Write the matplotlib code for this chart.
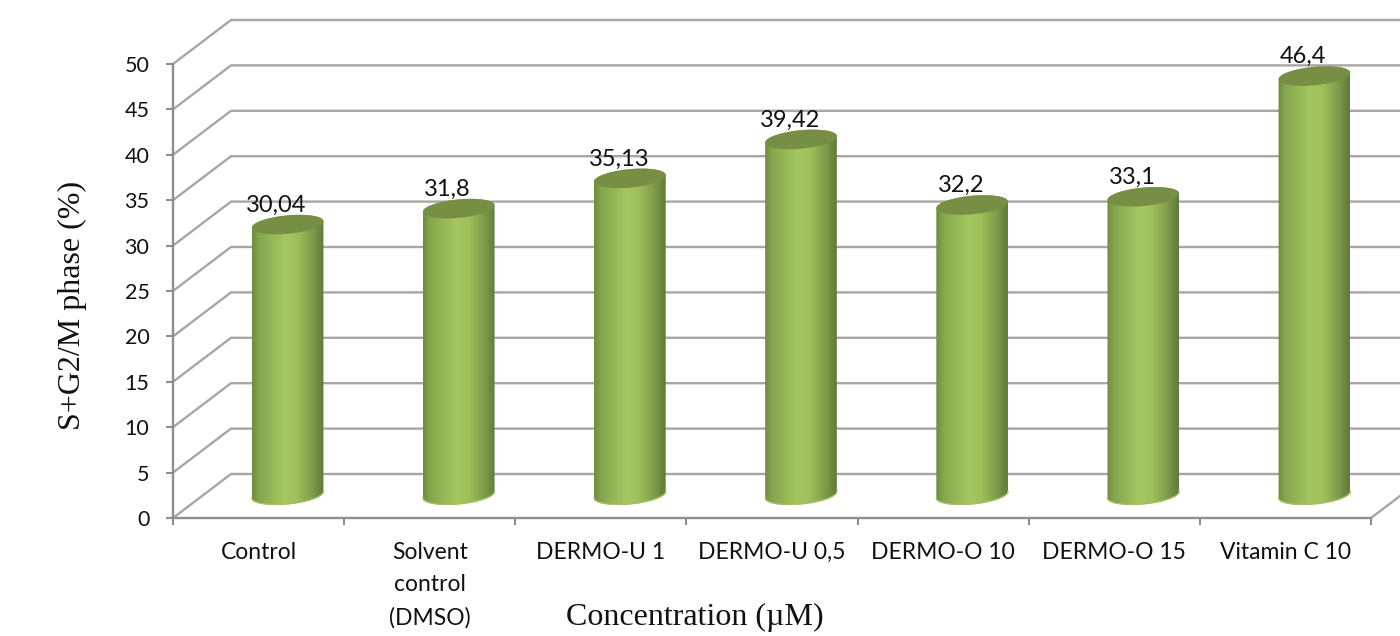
import numpy as np
import matplotlib
matplotlib.use('Agg')
import matplotlib.pyplot as plt
from matplotlib.colors import LinearSegmentedColormap
from matplotlib.patches import Polygon

# данные
categories = ['Control', 'Solvent\ncontrol\n(DMSO)', 'DERMO-U 1', 'DERMO-U 0,5',
              'DERMO-O 10', 'DERMO-O 15', 'Vitamin C 10']
values = [30.04, 31.8, 35.13, 39.42, 32.2, 33.1, 46.4]
value_labels = ['30,04', '31,8', '35,13', '39,42', '32,2', '33,1', '46,4']
y_ticks = list(range(0, 55, 5))

W, H = 1400, 636
L, R, T, B = 173, 1371, 64, 518
GRID = '#a6a6a6'
AXIS = '#8e8e8e'

fig = plt.figure(figsize=(W / 100, H / 100), dpi=100)
ax = fig.add_axes([L / W, 1 - B / H, (R - L) / W, (B - T) / H])
ax.set_facecolor('none')

# пиксели -> единицы данных
ux = (R - L) / 7
uy = (B - T) / 50
depth_x = 58 / ux
depth_y = 44 / uy

# стенки и пол
for v in y_ticks:
    ax.plot([0, depth_x, 7 + depth_x], [v, v + depth_y, v + depth_y], color=GRID,
            lw=1.7, clip_on=False, zorder=1, solid_joinstyle='miter')
ax.plot([7, 7 + depth_x], [0, depth_y], color=GRID, lw=1.7, clip_on=False, zorder=1)


def ellipse(xc, yc, t, a=36.0, b=9.2, tilt=5.5):
    phi = np.radians(tilt)
    dx = a * np.cos(t) * np.cos(phi) - b * np.sin(t) * np.sin(phi)
    dy = a * np.cos(t) * np.sin(phi) + b * np.sin(t) * np.cos(phi)
    return xc + dx / ux, yc + dy / uy


cyl = LinearSegmentedColormap.from_list('cyl', [
    (0.0, '#6f8c40'), (0.1, '#86a64e'), (0.45, '#a4c760'), (0.62, '#a0c05c'),
    (0.85, '#7d9a4a'), (1.0, '#5f7a38')])
grad = np.linspace(0, 1, 256).reshape(1, -1)

for i, v in enumerate(values):
    xc = i + 0.5 + depth_x / 2
    y0 = depth_y / 2 + 0.1
    y1 = y0 + v - 0.25
    half = 36 / ux
    # тело цилиндра
    tb = np.linspace(np.pi, 2 * np.pi, 60)
    xb, yb = ellipse(xc, y0, tb)
    tt = np.linspace(0, np.pi, 60)
    xt, yt = ellipse(xc, y1, tt)
    body = Polygon(np.column_stack([np.r_[xb, xt], np.r_[yb, yt]]), closed=True,
                   transform=ax.transData, facecolor='none', edgecolor='none')
    ax.add_patch(body)
    im = ax.imshow(grad, cmap=cyl, aspect='auto', zorder=3, interpolation='bilinear',
                   extent=[xc - half, xc + half, y0 - 2, y1 + 2])
    im.set_clip_path(body)
    # нижняя кромка
    ax.plot(xb, yb + 0.05, color='#a3c164', lw=1.0, zorder=4, clip_on=False)
    # верхний эллипс
    xe, ye = ellipse(xc, y1, np.linspace(0, 2 * np.pi, 120))
    ax.fill(xe, ye, color='#768f45', lw=0, zorder=5)
    ax.annotate(value_labels[i], (xc, y1), xytext=(-8, 14), textcoords='offset points',
                ha='center', va='center', fontsize=17, family='Lato', color='#111111',
                zorder=6, annotation_clip=False)

ax.set_xlim(0, 7)
ax.set_ylim(0, 50)

for s in ['top', 'right']:
    ax.spines[s].set_visible(False)
for s in ['left', 'bottom']:
    ax.spines[s].set_color(AXIS)
    ax.spines[s].set_linewidth(1.7)
    ax.spines[s].set_zorder(2)

ax.set_yticks(y_ticks)
ax.set_xticks(range(8))
ax.set_xticklabels([])
ax.set_xticks(np.arange(7) + 0.5, categories, minor=True)
ax.tick_params(axis='y', color=AXIS, width=1.5, length=5, pad=12, labelsize=15.5,
               labelfontfamily='Lato', labelcolor='#111111')
ax.tick_params(axis='x', which='major', color=AXIS, width=1.5, length=5)
ax.tick_params(axis='x', which='minor', length=0, pad=17, labelsize=16.5,
               labelfontfamily='Lato', labelcolor='#111111')
for lab in ax.get_xticklabels(minor=True):
    lab.set_linespacing(1.67)

fig.text(695 / W, 1 - 617 / H, 'Concentration (µM)', ha='center', va='center',
         fontsize=23, family='Liberation Serif', color='#111111')
fig.text(72 / W, 1 - 305 / H, 'S+G2/M phase (%)', ha='center', va='center', rotation=90,
         fontsize=23, family='Liberation Serif', color='#111111')

fig.savefig('out.png', dpi=100)
